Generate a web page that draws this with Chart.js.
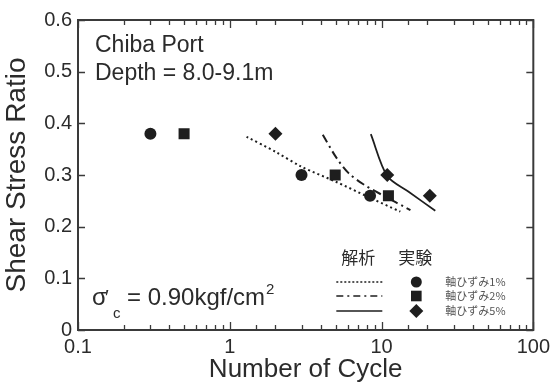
<!DOCTYPE html>
<html>
<head>
<meta charset="utf-8">
<script src="https://cdn.jsdelivr.net/npm/chart.js"></script>
<style>
  html, body { margin: 0; padding: 0; background: #fff; }
  #wrap { width: 555px; height: 385px; }
</style>
</head>
<body>
<div id="wrap"><canvas id="cycleChart" width="555" height="385"></canvas></div>
<script>
// axis labels
const xLabels = [0.1, 1, 10, 100];
const yLabels = [0, 0.1, 0.2, 0.3, 0.4, 0.5, 0.6];

// 実験 (test results): number of cycles / stress ratio
const exp1Cycles = [0.3, 2.97, 8.4];
const exp1Ratio = [0.38, 0.30, 0.26];
const exp2Cycles = [0.5, 4.95, 11.1];
const exp2Ratio = [0.38, 0.30, 0.26];
const exp5Cycles = [2.0, 10.9, 20.8];
const exp5Ratio = [0.38, 0.30, 0.26];

// 解析 (analysis curves)
const ana1Cycles = [1.29, 2.0, 2.97, 5.0, 8.1, 13.3];
const ana1Ratio = [0.374, 0.345, 0.316, 0.287, 0.258, 0.229];
const ana2Cycles = [4.1, 5.0, 6.0, 7.5, 10.0, 15.5];
const ana2Ratio = [0.378, 0.335, 0.305, 0.283, 0.262, 0.232];
const ana5Cycles = [8.5, 10.9, 15.0, 22.6];
const ana5Ratio = [0.379, 0.298, 0.268, 0.231];

const legendNames = ['軸ひずみ1%', '軸ひずみ2%', '軸ひずみ5%'];

const ink = '#1e1e1e';
const textColor = '#2b2b2b';
const dot = [2, 3];
const dashDot = [9, 4, 2, 4];
const solid = [];

const pts = (xs, ys) => xs.map((v, i) => ({ x: v, y: ys[i] }));

function curve(xs, ys, dash, width) {
  return {
    data: pts(xs, ys), showLine: true, pointRadius: 0, borderColor: ink,
    borderWidth: width, borderDash: dash, tension: 0.3, fill: false
  };
}
function marks(xs, ys, style, r) {
  return {
    data: pts(xs, ys), showLine: false, pointStyle: style, pointRadius: r,
    pointBackgroundColor: ink, pointBorderColor: ink, borderWidth: 0
  };
}

const isDecade = v => Math.abs(Math.log10(v) - Math.round(Math.log10(v))) < 1e-6;

// inward tick marks on all four sides plus the frame
const frameTicks = {
  id: 'frameTicks',
  afterDatasetsDraw(chart) {
    const { ctx, chartArea: a, scales: { x, y } } = chart;
    ctx.save();
    ctx.strokeStyle = '#3a3a3a';
    ctx.lineWidth = 1.3;
    ctx.beginPath();
    x.ticks.forEach(t => {
      const px = Math.round(x.getPixelForValue(t.value)) + 0.5;
      const len = isDecade(t.value) ? 8 : 5;
      ctx.moveTo(px, a.bottom); ctx.lineTo(px, a.bottom - len);
      ctx.moveTo(px, a.top); ctx.lineTo(px, a.top + len);
    });
    y.ticks.forEach(t => {
      const py = Math.round(y.getPixelForValue(t.value)) + 0.5;
      ctx.moveTo(a.left, py); ctx.lineTo(a.left + 7, py);
      ctx.moveTo(a.right, py); ctx.lineTo(a.right - 7, py);
    });
    ctx.stroke();
    ctx.lineWidth = 2;
    ctx.strokeRect(a.left, a.top, a.right - a.left, a.bottom - a.top);
    ctx.restore();
  }
};

// site note, confining stress and the legend table
const notes = {
  id: 'notes',
  afterDraw(chart) {
    const { ctx, chartArea: a } = chart;
    const sans = '"Liberation Sans", Arial, sans-serif';
    const jp = '"Noto Sans CJK JP", sans-serif';
    ctx.save();
    ctx.fillStyle = textColor;
    ctx.textBaseline = 'alphabetic';
    ctx.textAlign = 'left';
    ctx.font = '23px ' + sans;
    ctx.fillText('Chiba Port', a.left + 17, a.top + 32);
    ctx.fillText('Depth = 8.0-9.1m', a.left + 17, a.top + 60);

    // σ'c = 0.90kgf/cm2
    const bx = a.left + 14, by = a.bottom - 25;
    ctx.font = '24px ' + sans;
    ctx.fillText('σ', bx, by);
    ctx.font = '20px ' + sans;
    ctx.fillText('\u2032', bx + 13, by - 1);
    ctx.font = '15px ' + sans;
    ctx.fillText('c', bx + 21, by + 13);
    ctx.font = '24px ' + sans;
    ctx.fillText('= 0.90kgf/cm', bx + 35, by);
    const w = ctx.measureText('= 0.90kgf/cm').width;
    ctx.font = '15px ' + sans;
    ctx.fillText('2', bx + 36 + w, by - 11);

    // legend
    ctx.font = '17px ' + jp;
    ctx.textAlign = 'center';
    ctx.textBaseline = 'middle';
    ctx.fillText('解析', a.right - 175, a.bottom - 72);
    ctx.fillText('実験', a.right - 118, a.bottom - 72);
    const rows = [a.bottom - 48, a.bottom - 34, a.bottom - 19];
    const dashes = [[2, 2], [7, 4, 2, 4], []];
    const styles = ['circle', 'rect', 'rectRot'];
    const radii = [5.5, 7.5, 7];
    ctx.strokeStyle = ink;
    rows.forEach((ry, i) => {
      ctx.lineWidth = i === 2 ? 1.6 : 1.4;
      ctx.setLineDash(dashes[i]);
      ctx.beginPath();
      ctx.moveTo(a.right - 197, ry);
      ctx.lineTo(a.right - 151, ry);
      ctx.stroke();
      ctx.setLineDash([]);
      ctx.fillStyle = ink;
      Chart.helpers.drawPoint(ctx, {
        pointStyle: styles[i], radius: radii[i], rotation: 0, borderWidth: 0
      }, a.right - 117, ry);
      ctx.fillStyle = '#555';
      ctx.font = '11px ' + jp;
      ctx.textAlign = 'left';
      ctx.fillText(legendNames[i], a.right - 88, ry);
    });
    ctx.restore();
  }
};

Chart.defaults.font.family = '"Liberation Sans", Arial, sans-serif';
Chart.defaults.color = textColor;

new Chart(document.getElementById('cycleChart'), {
  type: 'scatter',
  data: {
    datasets: [
      curve(ana1Cycles, ana1Ratio, dot, 2),
      curve(ana2Cycles, ana2Ratio, dashDot, 2),
      curve(ana5Cycles, ana5Ratio, solid, 1.8),
      marks(exp1Cycles, exp1Ratio, 'circle', 6),
      marks(exp2Cycles, exp2Ratio, 'rect', 7.8),
      marks(exp5Cycles, exp5Ratio, 'rectRot', 7)
    ]
  },
  options: {
    responsive: false,
    animation: false,
    layout: { padding: { top: 20, right: 18, left: 0, bottom: 0 } },
    plugins: { legend: { display: false }, tooltip: { enabled: false } },
    scales: {
      x: {
        type: 'logarithmic',
        min: xLabels[0],
        max: xLabels[xLabels.length - 1],
        grid: { display: false, drawTicks: false },
        border: { display: false },
        ticks: {
          autoSkip: false, maxRotation: 0, padding: 5,
          font: { size: 20 }, color: textColor,
          callback: v => (xLabels.some(l => Math.abs(l - v) < 1e-9) ? String(v) : '')
        },
        title: {
          display: true, text: 'Number of Cycle', color: textColor,
          font: { size: 26 }, padding: { top: 0, bottom: 0 }
        },
        afterFit: s => { s.height = 55; }
      },
      y: {
        min: yLabels[0],
        max: yLabels[yLabels.length - 1],
        grid: { display: false, drawTicks: false },
        border: { display: false },
        afterBuildTicks: s => { s.ticks = yLabels.map(v => ({ value: v })); },
        ticks: {
          padding: 6, font: { size: 20 }, color: textColor,
          callback: v => String(v)
        },
        title: {
          display: true, text: 'Shear Stress Ratio', color: textColor,
          font: { size: 28 }, padding: { top: 0, bottom: 2 }
        },
        afterFit: s => { s.width = 78; }
      }
    }
  },
  plugins: [frameTicks, notes]
});
</script>
</body>
</html>
